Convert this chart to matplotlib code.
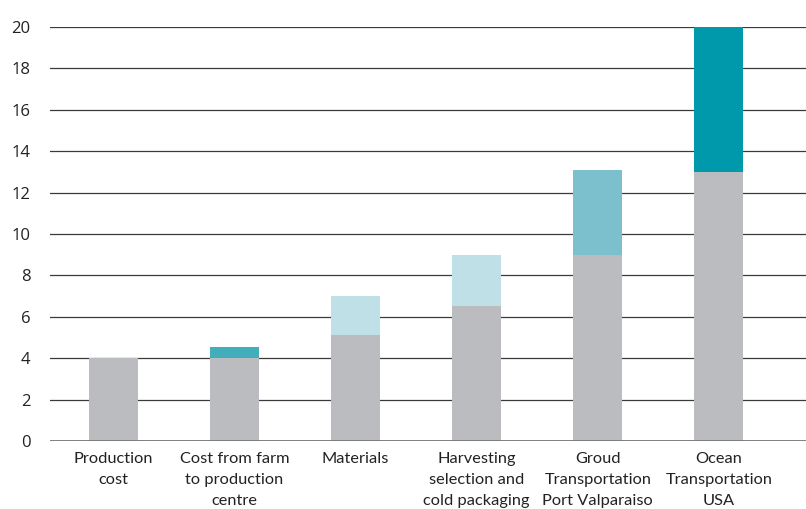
import matplotlib.pyplot as plt
import numpy as np

categories = [
    "Production\ncost",
    "Cost from farm\nto production\ncentre",
    "Materials",
    "Harvesting\nselection and\ncold packaging",
    "Groud\nTransportation\nPort Valparaiso",
    "Ocean\nTransportation\nUSA",
]
base_values = [4.0, 4.0, 5.1, 6.5, 9.0, 13.0]
added_values = [0.0, 0.55, 1.9, 2.5, 4.1, 7.0]
added_colors = ["#bbbcc0", "#42aebb", "#c0e0e8", "#c0e0e8", "#7bc0cc", "#0098ab"]

plt.rcParams['font.family'] = ['Lato', 'DejaVu Sans']

fig = plt.figure(figsize=(8.06, 5.09), dpi=100)
ax = fig.add_axes([50 / 806, 68 / 509, 756 / 806, 414 / 509])

x = np.arange(len(categories))
ax.bar(x, base_values, width=0.405, color="#bbbcc0", zorder=3)
ax.bar(x, added_values, width=0.405, bottom=base_values, color=added_colors, zorder=3)

ax.set_ylim(0, 20)
ax.set_xlim(-0.525, 5.72)
ax.set_yticks(range(0, 21, 2))
ax.yaxis.grid(True, color="#3a3a3a", linewidth=0.9, zorder=0)
ax.axhline(0, color="#777777", linewidth=2, zorder=4)

ax.set_xticks(x)
ax.set_xticklabels(categories, fontsize=11.8, color="#222222", linespacing=1.62)
ax.tick_params(axis='x', length=0, pad=8)
ax.tick_params(axis='y', length=0, pad=14, labelsize=12, labelcolor="#222222")
for lbl in ax.get_yticklabels():
    lbl.set_family(['Open Sans', 'DejaVu Sans'])

for s in ax.spines.values():
    s.set_visible(False)

fig.savefig("out.png", dpi=100)
